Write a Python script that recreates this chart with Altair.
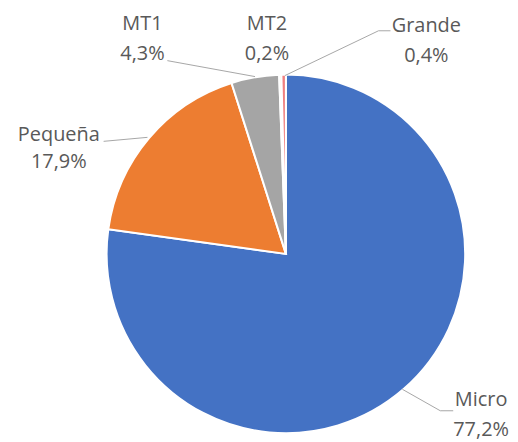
import altair as alt
import pandas as pd

# ---- data ----
categories = ["Micro", "Pequeña", "MT1", "MT2", "Grande"]
shares = [77.2, 17.9, 4.3, 0.2, 0.4]
colors = ["#4472C4", "#ED7D31", "#A5A5A5", "#FFE699", "#F08080"]

# ---- layout (chart pixel coordinates, page minus 8px margin) ----
OFF = 8
CX, CY, R = 287 - OFF, 254 - OFF, 180
label_pos = {  # centre of the two label lines (page coords)
    "Micro": (483, 401, 431),
    "Pequeña": (59, 135, 162),
    "MT1": (143, 23, 53),
    "MT2": (268, 23, 53),
    "Grande": (428, 25, 55),
}
leaders = {
    "Micro": [(455, 411.5), (442, 411.5), (404, 390)],
    "Pequeña": [(104, 141), (148, 137)],
    "MT1": [(168, 60), (256, 76)],
    "Grande": [(392, 30), (380, 30), (286, 75)],
}

def fmt(v):
    return f"{v:.1f}".replace(".", ",") + "%"

pie_df = pd.DataFrame({"cat": categories, "share": shares, "idx": range(len(categories))})

lab_rows = []
for c, v in zip(categories, shares):
    x, y1, y2 = label_pos[c]
    lab_rows.append({"cat": c, "pct": fmt(v), "x": x - OFF, "y1": y1 - OFF, "y2": y2 - OFF})
lab_df = pd.DataFrame(lab_rows)

lead_rows = []
for c, pts in leaders.items():
    for i, (x, y) in enumerate(pts):
        lead_rows.append({"cat": c, "i": i, "x": x - OFF, "y": y - OFF})
lead_df = pd.DataFrame(lead_rows)

FONT = "Open Sans"
TXT = "#595959"

pie = alt.Chart(pie_df).mark_arc(
    outerRadius=R, stroke="white", strokeWidth=2
).encode(
    theta=alt.Theta("share:Q", stack=True),
    order=alt.Order("idx:Q"),
    color=alt.Color("cat:N", scale=alt.Scale(domain=categories, range=colors), legend=None),
    x=alt.value(CX),
    y=alt.value(CY),
)

lines = alt.Chart(lead_df).mark_line(color="#A6A6A6", strokeWidth=1).encode(
    x=alt.X("x:Q", scale=None),
    y=alt.Y("y:Q", scale=None),
    detail="cat:N",
    order="i:Q",
)

names = alt.Chart(lab_df).mark_text(
    font=FONT, fontSize=20, color=TXT, align="center", baseline="middle"
).encode(
    x=alt.X("x:Q", scale=None),
    y=alt.Y("y1:Q", scale=None),
    text="cat:N",
)

pcts = alt.Chart(lab_df).mark_text(
    font=FONT, fontSize=20, color=TXT, align="center", baseline="middle"
).encode(
    x=alt.X("x:Q", scale=None),
    y=alt.Y("y2:Q", scale=None),
    text="pct:N",
)

chart = alt.layer(pie, lines, names, pcts).properties(
    width=502, height=426, padding=0
).configure_view(stroke=None)

chart.save("out.html", embed_options={"renderer": "svg", "actions": False})
